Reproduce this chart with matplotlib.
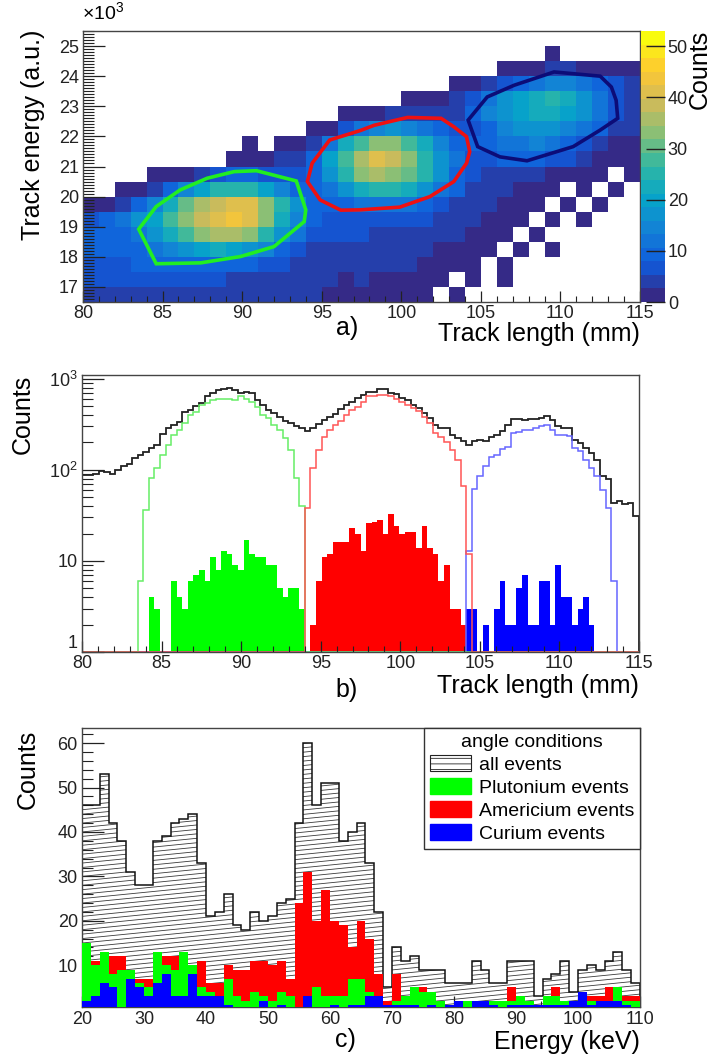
import numpy as np
import matplotlib
matplotlib.use("Agg")
import matplotlib.pyplot as plt
from matplotlib.colors import LinearSegmentedColormap
from matplotlib.collections import LineCollection
from matplotlib.patches import Patch, Polygon
from matplotlib.ticker import MultipleLocator, FixedLocator, LogLocator, NullFormatter

plt.rcParams["font.family"] = ["Liberation Sans", "DejaVu Sans"]
plt.rcParams["mathtext.fontset"] = "custom"
plt.rcParams["mathtext.rm"] = "Liberation Sans"
plt.rcParams["hatch.linewidth"] = 0.6

# ---------------- panel a: track energy vs track length (counts per cell)
len_edges_a = np.arange(80, 116, 1.0)
en_edges_a = np.arange(16.5, 25.6, 0.5)
# rows from top (25.0-25.5) to bottom (16.5-17.0), 1 mm columns from 80 to 115
counts_rows = [
    [0] * 35,
    [0] * 29 + [1, 0, 0, 0, 0, 0],
    [0] * 26 + [1, 1, 2, 3, 3, 2, 2, 2, 2],
    [0] * 23 + [1, 2, 4, 7, 10, 13, 14, 14, 12, 8, 6, 5],
    [0] * 20 + [1, 1, 2, 4, 7, 12, 16, 19, 22, 24, 22, 18, 13, 7, 5],
    [0] * 16 + [1, 1, 2, 4, 5, 5, 4, 5, 8, 14, 18, 21, 23, 22, 20, 16, 12, 7, 5],
    [0] * 14 + [1, 2, 6, 12, 15, 16, 15, 12, 9, 6, 6, 10, 14, 17, 18, 17, 15, 12, 8, 4, 3],
    [0, 0, 0, 0, 0, 0, 0, 0, 0, 0, 1, 0, 1, 2, 5, 12, 22, 28, 32, 32, 28, 22, 15, 9, 8, 10, 12, 13, 14, 12, 10, 7, 4, 2, 1],
    [0, 0, 0, 0, 0, 0, 0, 0, 0, 1, 2, 2, 3, 4, 9, 20, 28, 36, 40, 38, 33, 26, 18, 11, 7, 7, 8, 8, 8, 7, 6, 4, 2, 1, 1],
    [0, 0, 0, 0, 1, 1, 2, 4, 6, 8, 8, 7, 6, 6, 10, 18, 26, 32, 36, 34, 30, 24, 17, 10, 6, 5, 5, 4, 3, 2, 1, 2, 1, 0, 1],
    [0, 0, 1, 2, 5, 10, 15, 20, 24, 26, 24, 20, 15, 10, 8, 12, 17, 22, 25, 25, 22, 18, 13, 8, 5, 4, 3, 2, 1, 1, 0, 1, 0, 1, 0],
    [1, 2, 4, 8, 14, 22, 30, 35, 39, 41, 40, 34, 26, 16, 10, 9, 10, 11, 12, 12, 11, 9, 7, 5, 4, 3, 2, 1, 1, 0, 1, 0, 1, 0, 0],
    [7, 9, 12, 16, 21, 27, 33, 38, 42, 43, 40, 32, 23, 14, 9, 7, 7, 7, 7, 7, 6, 6, 5, 4, 3, 2, 1, 1, 0, 1, 0, 1, 0, 0, 0],
    [8, 9, 10, 13, 17, 22, 27, 33, 36, 36, 32, 25, 17, 11, 7, 6, 6, 6, 5, 5, 5, 4, 4, 3, 2, 1, 1, 0, 1, 0, 0, 0, 0, 0, 0],
    [8, 8, 9, 10, 12, 15, 18, 21, 22, 21, 18, 14, 10, 7, 5, 4, 4, 4, 4, 4, 3, 3, 2, 2, 1, 1, 0, 1, 0, 1, 0, 0, 0, 0, 0],
    [7, 7, 7, 8, 8, 9, 10, 10, 10, 9, 8, 7, 6, 5, 4, 3, 3, 3, 3, 3, 3, 2, 2, 1, 1, 0, 1, 0, 0, 0, 0, 0, 0, 0, 0],
    [6, 6, 6, 6, 6, 6, 6, 6, 6, 5, 5, 5, 4, 4, 3, 3, 2, 3, 2, 2, 2, 1, 1, 0, 1, 0, 1, 0, 0, 0, 0, 0, 0, 0, 0],
    [5, 5, 5, 5, 5, 5, 5, 5, 4, 4, 4, 4, 3, 3, 3, 2, 2, 2, 2, 1, 1, 1, 0, 1, 0, 0, 0, 0, 0, 0, 0, 0, 0, 0, 0],
]
pu_cut_len = [83.5, 84.6, 86.1, 87.8, 89.5, 90.9, 93.4, 94.0, 93.9, 92.0, 89.9, 87.4, 84.6]
pu_cut_en = [18.92, 19.67, 20.22, 20.61, 20.83, 20.86, 20.52, 19.56, 19.17, 18.34, 18.01, 17.80, 17.77]
am_cut_len = [94.1, 94.4, 95.5, 97.4, 98.3, 100.4, 102.5, 103.3, 104.1, 104.3, 104.1, 103.3, 101.8, 99.9, 97.4, 96.2, 94.9]
am_cut_en = [20.50, 21.11, 21.88, 22.19, 22.37, 22.63, 22.60, 22.32, 21.99, 21.49, 21.11, 20.50, 20.00, 19.65, 19.56, 19.55, 19.89]
cm_cut_len = [104.2, 105.4, 107.1, 109.6, 112.5, 113.2, 113.5, 113.6, 112.5, 110.8, 107.9, 106.2, 104.8]
cm_cut_en = [22.54, 23.31, 23.70, 24.14, 24.00, 23.64, 23.20, 22.60, 22.21, 21.66, 21.19, 21.32, 21.66]

# ---------------- panel b: track length spectra (100 bins, 80-115 mm)
all_len = [88, 88, 90, 97, 95, 90, 100, 109, 115, 134, 146, 159, 173, 188, 246, 286, 312, 339, 427, 459,
           507, 540, 648, 705, 746, 770, 790, 745, 695, 720, 695, 590, 520, 455, 420, 385, 340, 325, 305, 290,
           268, 290, 320, 353, 385, 415, 460, 510, 560, 620, 665, 720, 720, 780, 780, 695, 680, 610, 580, 520,
           480, 420, 370, 311, 290, 285, 241, 223, 205, 189, 205, 214, 205, 232, 241, 264, 311, 360, 360, 355,
           360, 365, 375, 390, 355, 304, 290, 285, 213, 196, 172, 152, 129, 86, 80, 43, 45, 42, 43, 31]
pu_sel_first = 10
pu_sel = [6, 36, 81, 104, 146, 188, 242, 275, 326, 402, 437, 517, 540, 590, 600,
          600, 600, 590, 640, 600, 560, 494, 400, 370, 310, 275, 223, 166, 81, 40]
am_sel_first = 40
am_sel = [38, 104, 166, 232, 275, 312, 340, 400, 457, 494, 560, 640, 640, 665, 665,
          640, 600, 560, 520, 480, 440, 385, 325, 253, 230, 200, 166, 129, 66, 12]
cm_sel_first = 69
cm_sel = [13, 62, 85, 109, 140, 145, 170, 180, 253, 260, 275, 275, 290, 300, 311,
          275, 241, 241, 235, 172, 160, 129, 105, 86, 60, 38, 6]
pu_ang_first = 12
pu_ang = [4, 3, 0, 0, 6, 4, 3, 6, 7, 8, 6, 11, 8, 13, 12, 9, 8, 17, 12, 11, 11, 9, 9, 5, 4, 5, 5, 3]
am_ang_first = 41
am_ang = [2, 6, 11, 12, 16, 16, 16, 23, 20, 13, 26, 27, 28, 20, 33, 24, 20, 21, 21, 14, 24, 14, 12, 6, 9, 3, 3, 2]
cm_ang_first = 69
cm_ang = [3, 3, 0, 2, 0, 3, 6, 2, 2, 5, 7, 2, 2, 6, 6, 2, 9, 4, 4, 2, 3, 4, 2]

# ---------------- panel c: energy spectra (63 bins, 20-110 keV)
all_energy = [46, 46, 53, 42, 38, 31, 28, 28, 38, 39, 42, 43, 44, 33, 21, 22, 26, 19, 18, 22, 20,
              21, 24, 25, 42, 60, 46, 51, 51, 38, 40, 42, 33, 22, 5, 14, 11, 12, 9, 9, 9,
              6, 6, 6, 11, 9, 6, 6, 11, 11, 11, 3, 7, 8, 11, 4, 9, 10, 9, 11, 13, 9, 6]
cm_energy = [2, 3, 6, 5, 0, 7, 5, 3, 6, 8, 3, 3, 8, 3, 3, 3, 1, 0, 0, 0, 2,
             0, 1, 0, 0, 3, 0, 0, 1, 0, 1, 1, 3, 3, 1, 1, 1, 1, 0, 1, 0,
             1, 2, 0, 2, 2, 1, 0, 1, 1, 1, 1, 1, 1, 1, 2, 4, 1, 2, 2, 2, 1, 0]
pu_energy = [13, 7, 7, 3, 9, 2, 1, 2, 7, 2, 6, 10, 2, 2, 1, 0, 6, 3, 2, 4, 1,
             2, 3, 3, 0, 0, 5, 3, 2, 3, 6, 6, 1, 0, 0, 1, 2, 4, 4, 3, 2,
             0, 0, 2, 0, 0, 1, 2, 1, 2, 1, 0, 2, 2, 1, 0, 0, 1, 0, 0, 3, 1, 2]
am_energy = [0, 1, 0, 4, 3, 0, 1, 2, 0, 2, 3, 0, 0, 6, 2, 3, 3, 6, 7, 7, 8,
             8, 7, 4, 24, 28, 15, 24, 17, 16, 7, 13, 12, 5, 1, 6, 0, 0, 1, 0, 0,
             0, 0, 0, 0, 0, 0, 0, 3, 0, 0, 0, 0, 2, 0, 0, 0, 1, 1, 3, 0, 1, 1]
legend_title = "angle conditions"
legend_labels = ["all events", "Plutonium events", "Americium events", "Curium events"]

W, H = 710, 1058


def box(left, top, right, bottom):
    return [left / W, 1 - bottom / H, (right - left) / W, (bottom - top) / H]


def pad_bins(first, values, n):
    full = np.zeros(n)
    full[first:first + len(values)] = values
    return full


def root_style(ax, xmaj_len, ymaj_len, xpad=3):
    ax.tick_params(which="both", direction="in", top=False, right=False,
                   labelsize=13, colors="#222222")
    ax.tick_params(axis="x", which="major", length=xmaj_len, width=0.9, pad=xpad)
    ax.tick_params(axis="x", which="minor", length=xmaj_len / 2, width=0.8)
    ax.tick_params(axis="y", which="major", length=ymaj_len, width=0.9, pad=3)
    ax.tick_params(axis="y", which="minor", length=ymaj_len / 2, width=0.8)
    for sp in ax.spines.values():
        sp.set_linewidth(1.0)
        sp.set_color("#444444")


def fx(px):
    return px / W


def fy(py):
    return 1 - py / H


fig = plt.figure(figsize=(W / 100, H / 100), dpi=100)

# ROOT "bird" palette
bird = LinearSegmentedColormap.from_list("bird", [
    (0.2082, 0.1664, 0.5293), (0.0592, 0.3599, 0.8684), (0.0780, 0.5041, 0.8385),
    (0.0232, 0.6419, 0.7914), (0.1802, 0.7178, 0.6425), (0.5301, 0.7492, 0.4662),
    (0.8186, 0.7328, 0.3499), (0.9956, 0.7862, 0.1968), (0.9764, 0.9832, 0.0539)], N=20)
bird.set_bad("white")

# ---------------- panel a
ax_a = fig.add_axes(box(83, 31, 640, 302))
counts = np.array(counts_rows[::-1], dtype=float)
mesh = ax_a.pcolormesh(len_edges_a, en_edges_a, np.ma.masked_equal(counts, 0),
                       cmap=bird, vmin=0, vmax=53)
for xs, ys, col in [(pu_cut_len, pu_cut_en, "#22ee22"),
                    (am_cut_len, am_cut_en, "#ee1111"),
                    (cm_cut_len, cm_cut_en, "#0c0c78")]:
    ax_a.add_patch(Polygon(np.column_stack([xs, ys]), closed=True, fill=False,
                           edgecolor=col, linewidth=2.6))
ax_a.set_xlim(80, 115)
ax_a.set_ylim(16.5, 25.5)
ax_a.xaxis.set_major_locator(MultipleLocator(5))
ax_a.xaxis.set_minor_locator(MultipleLocator(1))
ax_a.yaxis.set_major_locator(MultipleLocator(1))
ax_a.yaxis.set_minor_locator(MultipleLocator(0.1))
root_style(ax_a, 8, 16, xpad=2)

cax = fig.add_axes(box(641, 31, 665, 302))
cb = fig.colorbar(mesh, cax=cax)
cb.outline.set_linewidth(0)
cb.set_ticks([0, 10, 20, 30, 40, 50])
cax.tick_params(direction="in", length=14, width=1.0, labelsize=13, pad=2,
                colors="#222222")
fig.text(fx(700), fy(30), "Counts", rotation=90, ha="center", va="top", fontsize=18)
fig.text(fx(82), fy(13), r"$\times$10$^{3}$", ha="left", va="center", fontsize=14)
fig.text(fx(33), fy(30), "Track energy (a.u.)", rotation=90, ha="center", va="top", fontsize=18)
fig.text(fx(640), fy(334), "Track length (mm)", ha="right", va="center", fontsize=18)
fig.text(fx(347), fy(328), "a)", ha="center", va="center", fontsize=18)

# ---------------- panel b
ax_b = fig.add_axes(box(82, 375, 639, 652))
nb = len(all_len)
len_edges_b = np.linspace(80, 115, nb + 1)
fills_b = [(pu_ang_first, pu_ang, "#00ff00"), (am_ang_first, am_ang, "#ff0000"),
           (cm_ang_first, cm_ang, "#0000ff")]
for first, vals, col in fills_b:
    v = np.maximum(pad_bins(first, vals, nb), 1)
    ax_b.stairs(v, len_edges_b, fill=True, baseline=1, color=col, linewidth=0)
ax_b.stairs(np.array(all_len, float), len_edges_b, baseline=1, color="#222222", linewidth=1.3)
lines_b = [(cm_sel_first, cm_sel, "#6666ff"), (pu_sel_first, pu_sel, "#66ee66"),
           (am_sel_first, am_sel, "#ff5555")]
for first, vals, col in lines_b:
    v = np.maximum(pad_bins(first, vals, nb), 1)
    ax_b.stairs(v, len_edges_b, baseline=1, color=col, linewidth=1.1)
ax_b.set_yscale("log")
ax_b.set_xlim(80, 115)
ax_b.set_ylim(1, 1100)
ax_b.xaxis.set_major_locator(MultipleLocator(5))
ax_b.xaxis.set_minor_locator(MultipleLocator(1))
ax_b.yaxis.set_major_locator(FixedLocator([1, 10, 100, 1000]))
ax_b.set_yticklabels(["1", "10", r"10$^{2}$", r"10$^{3}$"])
ax_b.yaxis.set_minor_locator(LogLocator(base=10, subs=np.arange(2, 10)))
ax_b.yaxis.set_minor_formatter(NullFormatter())
root_style(ax_b, 8, 16, xpad=2)
ax_b.get_yticklabels()[0].set_verticalalignment("bottom")
fig.text(fx(23), fy(375), "Counts", rotation=90, ha="center", va="top", fontsize=18)
fig.text(fx(639), fy(686), "Track length (mm)", ha="right", va="center", fontsize=18)
fig.text(fx(347), fy(690), "b)", ha="center", va="center", fontsize=18)

# ---------------- panel c
ax_c = fig.add_axes(box(82, 728, 640, 1007))
nc = len(all_energy)
en_edges_c = np.linspace(20, 110, nc + 1)
cm_top = np.array(cm_energy, float)
pu_top = cm_top + np.array(pu_energy, float)
am_top = pu_top + np.array(am_energy, float)
all_patch = ax_c.stairs(all_energy, en_edges_c, fill=True, baseline=0,
                        facecolor="white", edgecolor="none", linewidth=0, zorder=1)
# slanted hatch lines (ROOT fill style), clipped to the histogram area
hatch_off = np.arange(-14, 66, 1.0)
hatch_lines = [[(20, c), (110, c + 12.5)] for c in hatch_off]
hatch = LineCollection(hatch_lines, colors="#3a3a3a", linewidths=0.6, zorder=1.5)
ax_c.add_collection(hatch)
hatch.set_clip_path(all_patch)
ax_c.stairs(all_energy, en_edges_c, baseline=0, color="#111111", linewidth=1.1, zorder=2)
ax_c.stairs(am_top, en_edges_c, fill=True, baseline=0, color="#ff0000", linewidth=0, zorder=3)
ax_c.stairs(pu_top, en_edges_c, fill=True, baseline=0, color="#00ff00", linewidth=0, zorder=3.1)
ax_c.stairs(cm_top, en_edges_c, fill=True, baseline=0, color="#0000ff", linewidth=0, zorder=3.2)
ax_c.set_xlim(20, 110)
ax_c.set_ylim(0.6, 63.4)
ax_c.xaxis.set_major_locator(MultipleLocator(10))
ax_c.xaxis.set_minor_locator(MultipleLocator(2))
ax_c.yaxis.set_major_locator(FixedLocator([10, 20, 30, 40, 50, 60]))
ax_c.yaxis.set_minor_locator(MultipleLocator(2))
root_style(ax_c, 8, 16)

handles = [Patch(facecolor="white", edgecolor="#222222", hatch="---", linewidth=0.8),
           Patch(facecolor="#00ff00", edgecolor="#00ff00"),
           Patch(facecolor="#ff0000", edgecolor="#ff0000"),
           Patch(facecolor="#0000ff", edgecolor="#0000ff")]
leg = ax_c.legend(handles, legend_labels, title=legend_title, loc="upper right",
                  bbox_to_anchor=(1.0, 1.0), borderaxespad=0, fancybox=False,
                  edgecolor="#333333", framealpha=1, fontsize=14, title_fontsize=14,
                  handlelength=2.1, handleheight=0.9, handletextpad=0.4,
                  labelspacing=0.22, borderpad=0.3)
leg.get_frame().set_linewidth(1.0)
leg.set_zorder(5)
fig.text(fx(28), fy(730), "Counts", rotation=90, ha="center", va="top", fontsize=18)
fig.text(fx(640), fy(1042), "Energy (keV)", ha="right", va="center", fontsize=18)
fig.text(fx(345), fy(1040), "c)", ha="center", va="center", fontsize=18)

fig.savefig("out.png", dpi=100)
